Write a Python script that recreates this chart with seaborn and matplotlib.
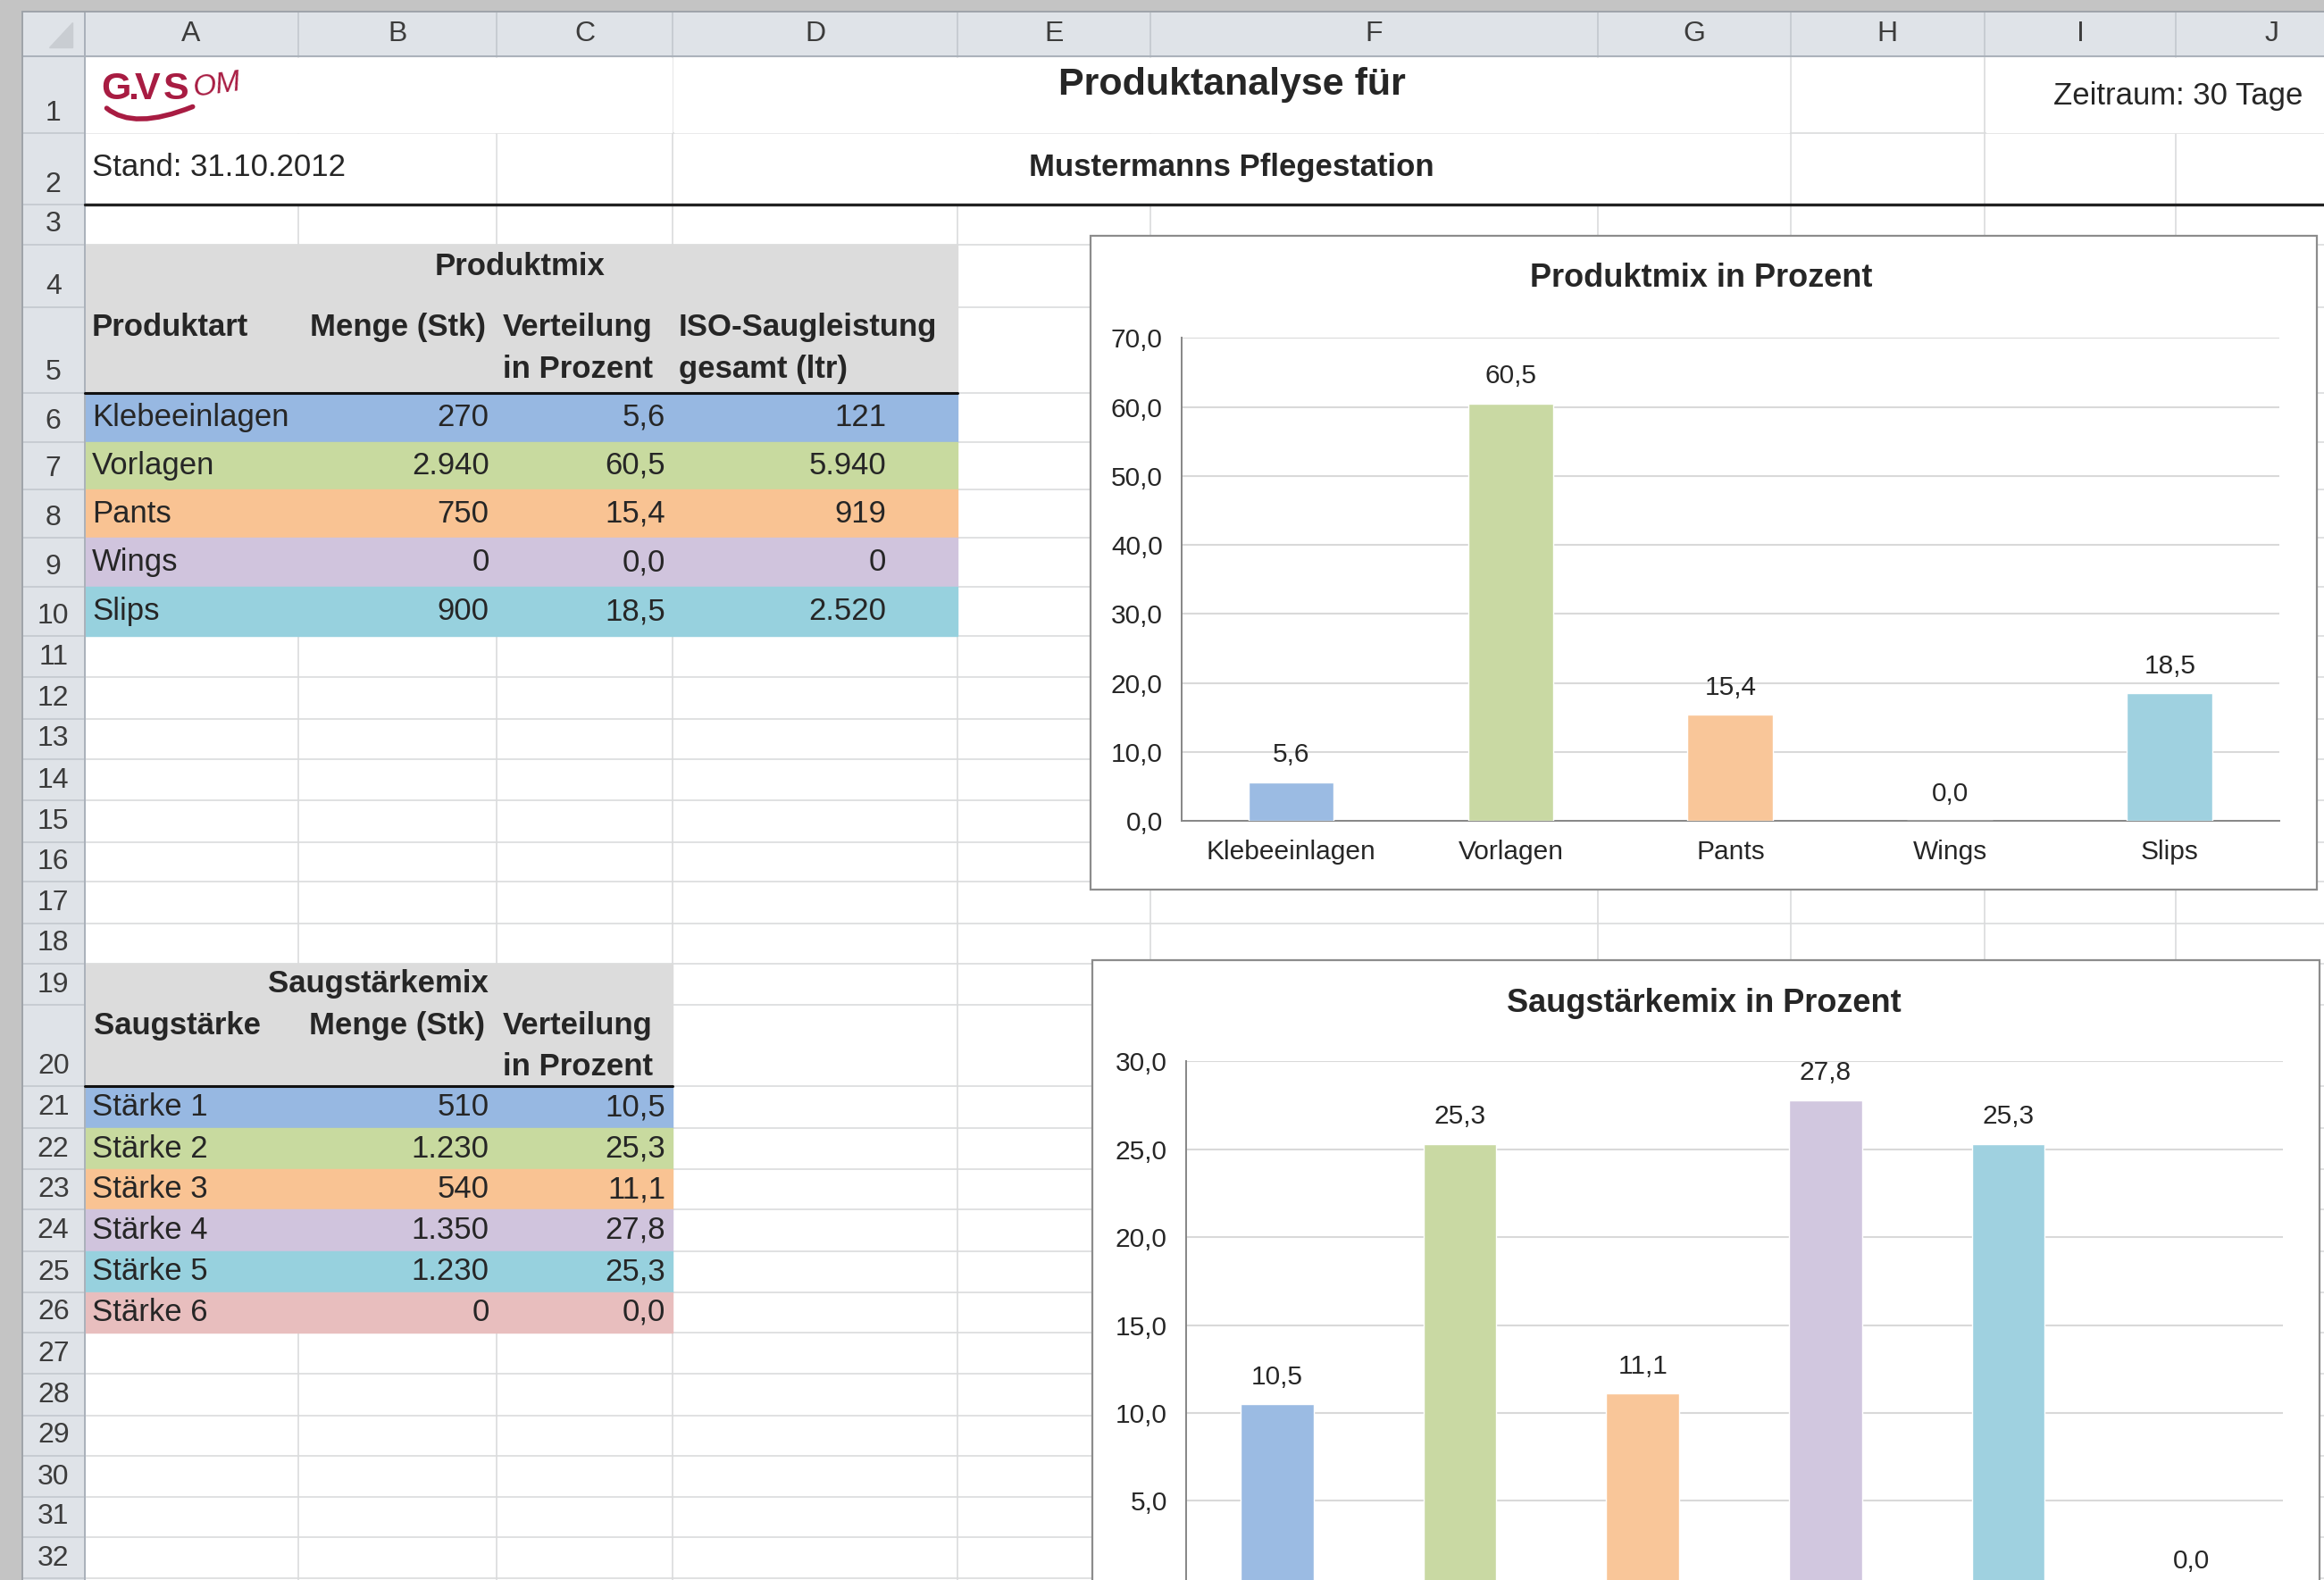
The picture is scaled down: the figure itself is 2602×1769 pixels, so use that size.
import matplotlib
matplotlib.use('Agg')
import matplotlib.pyplot as plt
import pandas as pd
import seaborn as sns
from matplotlib.patches import Rectangle, Polygon, PathPatch
from matplotlib.path import Path
from matplotlib.ticker import FuncFormatter, MultipleLocator

# table / chart data
produkt_names = ['Klebeeinlagen', 'Vorlagen', 'Pants', 'Wings', 'Slips']
produkt_menge = [270, 2940, 750, 0, 900]
produkt_pct = [5.6, 60.5, 15.4, 0.0, 18.5]
produkt_iso = [121, 5940, 919, 0, 2520]

staerke_names = ['Stärke 1', 'Stärke 2', 'Stärke 3', 'Stärke 4', 'Stärke 5', 'Stärke 6']
staerke_menge = [510, 1230, 540, 1350, 1230, 0]
staerke_pct = [10.5, 25.3, 11.1, 27.8, 25.3, 0.0]

row_colors = ['#97b8e2', '#c8da9f', '#f9c393', '#d0c4dd', '#97d1de', '#e8bebe']
bar_colors = ['#9bbbe3', '#c9d9a3', '#f9c699', '#d1c7df', '#9fd1e0', '#e6b9b8']

# sheet layout (screen units, 1568 x 1066)
W, H = 1568, 1066
col_edges = [57, 201, 335, 454, 646, 776, 1078, 1208, 1339, 1468, 1598]
col_names = list('ABCDEFGHIJ')
row_edges = [38, 90, 138, 165, 207, 265, 298, 330, 363, 396, 429, 457, 485, 512,
             540, 568, 595, 623, 650, 678, 733, 761, 789, 816, 844, 872, 899, 927,
             955, 982, 1010, 1037, 1065]

sns.set_style('white')
plt.rcParams['font.family'] = ['Liberation Sans', 'DejaVu Sans']

FS = 25
GRID = '#dadcdd'
HEAD = '#dfe3e8'


def de1(v):
    return f'{v:.1f}'.replace('.', ',')


def de0(v):
    return f'{v:,.0f}'.replace(',', '.')


def fig_rect(x0, y0, x1, y1):
    return [x0 / W, 1 - y1 / H, (x1 - x0) / W, (y1 - y0) / H]


fig = plt.figure(figsize=(26.02, 17.69), dpi=100)
bg = fig.add_axes([0, 0, 1, 1])
bg.set_xlim(0, W)
bg.set_ylim(H, 0)
bg.axis('off')

# window background + sheet
bg.add_patch(Rectangle((0, 0), W, H, color='#c4c4c4', zorder=0))
bg.add_patch(Rectangle((15, 8), W - 15, H - 8, color='white', zorder=0.5))

# cell grid
for x in col_edges[1:-1]:
    bg.plot([x, x], [38, H], color=GRID, lw=1.2, zorder=1)
for y in row_edges[1:]:
    bg.plot([57, W], [y, y], color=GRID, lw=1.2, zorder=1)

# merged / overflowing cells hide grid lines
for x0, y0, x1, y1 in [(58, 39, 453, 89.4), (455, 39, 1207, 89.4), (455, 90.6, 1207, 137),
                       (1340, 39, W, 89.4), (58, 90.6, 334, 137)]:
    bg.add_patch(Rectangle((x0, y0), x1 - x0, y1 - y0, color='white', zorder=1.5))

# headers
bg.add_patch(Rectangle((15, 8), W - 15, 30, color=HEAD, zorder=2))
bg.add_patch(Rectangle((15, 38), 42, H - 38, color=HEAD, zorder=2))
for x in col_edges:
    bg.plot([x, x], [8, 38], color='#c3c8ce', lw=1.2, zorder=2.1)
for y in row_edges[1:]:
    bg.plot([15, 57], [y, y], color='#c3c8ce', lw=1.2, zorder=2.1)
bg.plot([15, W], [38, 38], color='#aab1ba', lw=1.4, zorder=2.2)
bg.plot([57, 57], [8, H], color='#aab1ba', lw=1.4, zorder=2.2)
bg.plot([15, W], [8, 8], color='#9ea3a9', lw=1.4, zorder=2.2)
bg.plot([15, 15], [8, H], color='#9ea3a9', lw=1.4, zorder=2.2)
bg.add_patch(Polygon([(49, 15), (49, 32), (33, 32)], color='#c9cdd2', zorder=2.3))
for i, name in enumerate(col_names):
    bg.text((col_edges[i] + col_edges[i + 1]) / 2, 23, name, ha='center', va='center',
            fontsize=23, color='#3c3c3c', zorder=3)
for i in range(len(row_edges) - 1):
    bg.text(36, row_edges[i + 1] - 13.5, str(i + 1), ha='center', va='center',
            fontsize=23, color='#3c3c3c', zorder=3)

# logo
red = '#a81c42'
for ch, x in [('G', 68), ('.', 86), ('V', 91), ('S', 110)]:
    bg.text(x, 67, ch, color=red, fontsize=31, fontweight='bold', va='baseline', zorder=3)
bg.text(129, 65, 'OM', color=red, fontsize=24, style='italic', va='baseline',
        rotation=8, zorder=3)
swoosh = Path([(72, 73), (90, 88), (130, 72)], [Path.MOVETO, Path.CURVE3, Path.CURVE3])
bg.add_patch(PathPatch(swoosh, fill=False, ec=red, lw=4, capstyle='round', zorder=3))

# header texts
bg.text(62, 113, 'Stand: 31.10.2012', fontsize=FS, va='center', zorder=3)
bg.text(831, 57, 'Produktanalyse für', fontsize=31, fontweight='bold', ha='center',
        va='center', zorder=3)
bg.text(831, 113, 'Mustermanns Pflegestation', fontsize=FS, fontweight='bold',
        ha='center', va='center', zorder=3)
bg.text(1554, 65, 'Zeitraum: 30 Tage', fontsize=FS, ha='right', va='center', zorder=3)
bg.plot([57, W], [138, 138], color='#222222', lw=2.4, zorder=3)

# table 1: Produktmix
bg.add_patch(Rectangle((57, 165), 646 - 57, 100, color='#dcdcdc', zorder=2))
bg.text(351, 180, 'Produktmix', fontsize=FS, fontweight='bold', ha='center', va='center', zorder=3)
bg.text(62, 221, 'Produktart', fontsize=FS, fontweight='bold', va='center', zorder=3)
bg.text(328, 221, 'Menge (Stk)', fontsize=FS, fontweight='bold', ha='right', va='center', zorder=3)
bg.text(339, 221, 'Verteilung', fontsize=FS, fontweight='bold', va='center', zorder=3)
bg.text(339, 249, 'in Prozent', fontsize=FS, fontweight='bold', va='center', zorder=3)
bg.text(458, 221, 'ISO-Saugleistung', fontsize=FS, fontweight='bold', va='center', zorder=3)
bg.text(458, 249, 'gesamt (ltr)', fontsize=FS, fontweight='bold', va='center', zorder=3)
for i, name in enumerate(produkt_names):
    y0, y1 = row_edges[5 + i], row_edges[6 + i]
    yc = (y0 + y1) / 2
    bg.add_patch(Rectangle((57, y0), 646 - 57, y1 - y0, color=row_colors[i], zorder=2))
    bg.text(62, yc, name, fontsize=FS, va='center', zorder=3)
    bg.text(330, yc, de0(produkt_menge[i]), fontsize=FS, ha='right', va='center', zorder=3)
    bg.text(449, yc, de1(produkt_pct[i]), fontsize=FS, ha='right', va='center', zorder=3)
    bg.text(598, yc, de0(produkt_iso[i]), fontsize=FS, ha='right', va='center', zorder=3)
bg.plot([57, 646], [265, 265], color='#111111', lw=2.2, zorder=3)

# table 2: Saugstaerkemix
bg.add_patch(Rectangle((57, 650), 454 - 57, 83, color='#dcdcdc', zorder=2))
bg.text(255, 664, 'Saugstärkemix', fontsize=FS, fontweight='bold', ha='center', va='center', zorder=3)
bg.text(63, 692, 'Saugstärke', fontsize=FS, fontweight='bold', va='center', zorder=3)
bg.text(327, 692, 'Menge (Stk)', fontsize=FS, fontweight='bold', ha='right', va='center', zorder=3)
bg.text(339, 692, 'Verteilung', fontsize=FS, fontweight='bold', va='center', zorder=3)
bg.text(339, 720, 'in Prozent', fontsize=FS, fontweight='bold', va='center', zorder=3)
for i, name in enumerate(staerke_names):
    y0, y1 = row_edges[20 + i], row_edges[21 + i]
    yc = (y0 + y1) / 2
    bg.add_patch(Rectangle((57, y0), 454 - 57, y1 - y0, color=row_colors[i], zorder=2))
    bg.text(62, yc, name, fontsize=FS, va='center', zorder=3)
    bg.text(330, yc, de0(staerke_menge[i]), fontsize=FS, ha='right', va='center', zorder=3)
    bg.text(449, yc, de1(staerke_pct[i]), fontsize=FS, ha='right', va='center', zorder=3)
bg.plot([57, 454], [733, 733], color='#111111', lw=2.2, zorder=3)

# chart frames
bg.add_patch(Rectangle((736, 159), 1563 - 736, 600 - 159, fc='white', ec='#8c8c8c', lw=1.6, zorder=5))
bg.add_patch(Rectangle((737, 648), 1565 - 737, 1080 - 648, fc='white', ec='#8c8c8c', lw=1.6, zorder=5))
bg.text(1148, 188, 'Produktmix in Prozent', fontsize=26, fontweight='bold', ha='center',
        va='center', zorder=6)
bg.text(1150, 677, 'Saugstärkemix in Prozent', fontsize=26, fontweight='bold', ha='center',
        va='center', zorder=6)


def draw_chart(ax, cats, vals, ymax, step, width):
    df = pd.DataFrame({'cat': cats, 'val': vals})
    sns.barplot(data=df, x='cat', y='val', hue='cat', palette=bar_colors[:len(cats)],
                saturation=1, width=width, legend=False, ax=ax, zorder=3)
    ax.set_facecolor('none')
    ax.set_xlim(-0.5, len(cats) - 0.5)
    ax.set_ylim(0, ymax)
    ax.yaxis.set_major_locator(MultipleLocator(step))
    ax.yaxis.set_major_formatter(FuncFormatter(lambda v, p: de1(v)))
    ax.set_axisbelow(True)
    ax.yaxis.grid(True, color='#d9d9d9', lw=1.5)
    ax.xaxis.grid(False)
    for s in ['top', 'right']:
        ax.spines[s].set_visible(False)
    for s in ['left', 'bottom']:
        ax.spines[s].set_color('#868686')
        ax.spines[s].set_linewidth(1.4)
    ax.set_xlabel('')
    ax.set_ylabel('')
    ax.tick_params(axis='y', length=6, width=1.2, color='#868686', pad=9, labelsize=21.5)
    ax.tick_params(axis='x', which='major', length=0, pad=15, labelsize=21.5)
    ax.set_xticks([i - 0.5 for i in range(len(cats) + 1)], minor=True)
    ax.tick_params(axis='x', which='minor', length=7, width=1.2, color='#868686')
    for p in ax.patches:
        h = p.get_height()
        ax.annotate(de1(h), (p.get_x() + p.get_width() / 2, h), xytext=(0, 12),
                    textcoords='offset points', ha='center', va='bottom', fontsize=21.5)


ax1 = fig.add_axes(fig_rect(797, 228, 1538, 554))
draw_chart(ax1, produkt_names, produkt_pct, 70, 10, 0.39)

# lower chart runs past the bottom edge of the screenshot: its category axis is not visible
ax2 = fig.add_axes(fig_rect(800, 716, 1540, 1072))
draw_chart(ax2, staerke_names, staerke_pct, 30, 5, 0.40)
ax2.tick_params(axis='x', which='both', labelbottom=False)
ax2.yaxis.set_major_formatter(FuncFormatter(lambda v, p: de1(v) if v > 0 else ''))

fig.savefig('out.png', dpi=100)
